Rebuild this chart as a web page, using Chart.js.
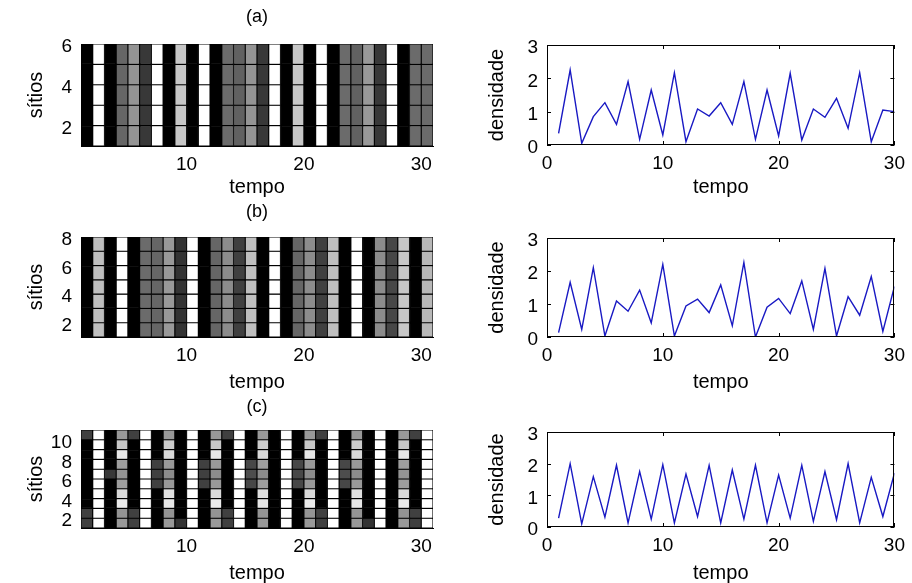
<!DOCTYPE html>
<html>
<head>
<meta charset="utf-8">
<script src="https://cdn.jsdelivr.net/npm/chart.js@4.4.1/dist/chart.umd.min.js"></script>
<style>
  html, body { margin: 0; padding: 0; background: #fff; }
  #fig { position: relative; width: 912px; height: 583px; overflow: hidden; background: #fff; }
  #fig canvas { position: absolute; }
</style>
</head>
<body>
<div id="fig">
  <canvas id="mapaA"></canvas>
  <canvas id="mapaB"></canvas>
  <canvas id="mapaC"></canvas>
  <canvas id="densA"></canvas>
  <canvas id="densB"></canvas>
  <canvas id="densC"></canvas>
</div>
<script>
const tempo = [1, 2, 3, 4, 5, 6, 7, 8, 9, 10, 11, 12, 13, 14, 15, 16, 17, 18, 19, 20, 21, 22, 23, 24, 25, 26, 27, 28, 29, 30];

// tick labels
const ticksTempoMapa = [10, 20, 30];
const ticksTempoDens = [0, 10, 20, 30];
const ticksDens = [0, 1, 2, 3];
const ticksSitiosA = [2, 4, 6];
const ticksSitiosB = [2, 4, 6, 8];
const ticksSitiosC = [2, 4, 6, 8, 10];

// gray level of each time step (0 = black, 1 = white); every site has the same state
const cinzaA = [0, 1, 0, 0.4, 0.58, 0.22, 1, 0, 0.78, 0, 1, 0, 0.42, 0.38, 0.58, 0.22, 1, 0, 0.78, 0, 1, 0, 0.42, 0.38, 0.6, 0.22, 1, 0, 0.42, 0.42];
const cinzaB = [0, 0.75, 0, 1, 0, 0.42, 0.4, 0.6, 0.2, 1, 0, 0.4, 0.55, 0.25, 0.75, 0, 1, 0, 0.4, 0.55, 0.25, 0.75, 0, 1, 0, 0.55, 0.28, 0.78, 0, 0.72];

// case (c): sites x time, first row is the top site (10), last row the bottom site (1)
const cinzaC = [
  [0.25, 1, 0, 0.6, 0.25, 1, 0, 0.6, 0, 1, 0, 0.6, 0.25, 1, 0, 0.6, 0, 1, 0, 0.6, 0.25, 1, 0, 0.6, 0, 1, 0, 0.6, 0.25, 1],
  [0, 1, 0, 0.78, 0, 1, 0, 0.8, 0, 1, 0, 0.78, 0, 1, 0, 0.8, 0, 1, 0, 0.78, 0, 1, 0, 0.8, 0, 1, 0, 0.78, 0, 1],
  [0, 1, 0, 0.9, 0, 1, 0, 0.85, 0, 1, 0, 0.9, 0, 1, 0, 0.85, 0, 1, 0, 0.9, 0, 1, 0, 0.85, 0, 1, 0, 0.9, 0, 1],
  [0, 1, 0, 0.62, 0, 1, 0.25, 0.6, 0, 1, 0.25, 0.6, 0, 1, 0.28, 0.62, 0, 1, 0.28, 0.6, 0, 1, 0.28, 0.6, 0, 1, 0, 0.62, 0, 1],
  [0, 1, 0.22, 0.58, 0, 1, 0.25, 0.55, 0, 1, 0.25, 0.55, 0, 1, 0.3, 0.55, 0, 1, 0.28, 0.55, 0, 1, 0.3, 0.55, 0, 1, 0, 0.58, 0, 1],
  [0, 1, 0, 0.62, 0, 1, 0.25, 0.6, 0, 1, 0.25, 0.6, 0, 1, 0.28, 0.62, 0, 1, 0.28, 0.6, 0, 1, 0.28, 0.6, 0, 1, 0, 0.62, 0, 1],
  [0, 1, 0, 0.85, 0, 1, 0, 0.88, 0, 1, 0, 0.85, 0, 1, 0, 0.88, 0, 1, 0, 0.85, 0, 1, 0, 0.88, 0, 1, 0, 0.85, 0, 1],
  [0, 1, 0, 0.92, 0, 1, 0, 0.9, 0, 1, 0, 0.92, 0, 1, 0, 0.9, 0, 1, 0, 0.92, 0, 1, 0, 0.9, 0, 1, 0, 0.92, 0, 1],
  [0.25, 1, 0, 0.58, 0.25, 1, 0, 0.58, 0, 1, 0, 0.58, 0.25, 1, 0, 0.58, 0, 1, 0, 0.58, 0.25, 1, 0, 0.58, 0, 1, 0, 0.58, 0.25, 1],
  [0.25, 1, 0, 0.6, 0.25, 1, 0, 0.6, 0.2, 1, 0, 0.6, 0.25, 1, 0, 0.6, 0, 1, 0, 0.6, 0.25, 1, 0, 0.6, 0.2, 1, 0, 0.6, 0.25, 1],
];

const densidadeA = [0.35, 2.25, 0.05, 0.85, 1.27, 0.62, 1.9, 0.17, 1.65, 0.3, 2.17, 0.1, 1.08, 0.87, 1.27, 0.62, 1.9, 0.17, 1.65, 0.27, 2.15, 0.15, 1.08, 0.83, 1.4, 0.5, 2.17, 0.1, 1.05, 1.0];
const densidadeB = [0.13, 1.66, 0.23, 2.1, 0.03, 1.09, 0.78, 1.42, 0.43, 2.2, 0.03, 0.94, 1.15, 0.74, 1.58, 0.34, 2.26, 0.0, 0.9, 1.17, 0.71, 1.7, 0.23, 2.08, 0.03, 1.22, 0.66, 1.83, 0.17, 1.53];
const densidadeC = [0.28, 2.0, 0.1, 1.59, 0.31, 1.95, 0.13, 1.75, 0.25, 1.97, 0.13, 1.67, 0.33, 1.95, 0.13, 1.8, 0.25, 1.95, 0.13, 1.64, 0.28, 1.95, 0.18, 1.75, 0.23, 2.0, 0.13, 1.57, 0.33, 1.7];

Chart.defaults.color = '#000';
Chart.defaults.font.family = '"Liberation Sans", Arial, sans-serif';

const FONTE_TICK = { size: 19 };
const FONTE_EIXO = { size: 20, lineHeight: 1.2 };
const FONTE_TITULO = { size: 18, weight: 'normal', lineHeight: 1.2 };
const LARGURA_Y = 64;
const ALTURA_X = 58;

const cinza = (g) => {
  const v = Math.round(g * 255);
  return `rgb(${v},${v},${v})`;
};

const fixarTicks = (valores) => (scale) => {
  scale.ticks = valores.map((value) => ({ value }));
};

// canvas box, plot area and label positions are all in page pixels
const montar = (id, caixa, area, rotulos, config) => {
  const canvas = document.getElementById(id);
  canvas.width = caixa.w;
  canvas.height = caixa.h;
  canvas.style.left = caixa.x + 'px';
  canvas.style.top = caixa.y + 'px';

  const lhEixo = FONTE_EIXO.size * FONTE_EIXO.lineHeight;
  const lhTitulo = FONTE_TITULO.size * FONTE_TITULO.lineHeight;
  const topo = rotulos.titulo ? rotulos.tituloY - caixa.y - lhTitulo / 2 : area.T - caixa.y;

  const opts = config.options;
  opts.responsive = false;
  opts.animation = false;
  opts.layout = {
    autoPadding: false,
    padding: {
      left: area.L - caixa.x - LARGURA_Y,
      right: caixa.x + caixa.w - area.R,
      top: topo,
      bottom: caixa.y + caixa.h - area.B - ALTURA_X,
    },
  };
  opts.plugins = {
    legend: { display: false },
    tooltip: { enabled: false },
    title: rotulos.titulo
      ? {
          display: true,
          text: rotulos.titulo,
          fullSize: false,
          font: FONTE_TITULO,
          padding: { top: 0, bottom: area.T - rotulos.tituloY - lhTitulo / 2 },
        }
      : { display: false },
  };
  const sx = opts.scales.x;
  const sy = opts.scales.y;
  sx.afterFit = (s) => { s.height = ALTURA_X; };
  sy.afterFit = (s) => { s.width = LARGURA_Y; };
  sx.ticks = { font: FONTE_TICK, padding: 7, maxRotation: 0, autoSkip: false };
  sy.ticks = { font: FONTE_TICK, padding: 9, labelOffset: 3, autoSkip: false };
  sx.title = {
    display: true,
    text: 'tempo',
    font: FONTE_EIXO,
    padding: { top: 0, bottom: area.B + ALTURA_X - lhEixo / 2 - rotulos.eixoXY },
  };
  sy.title = {
    display: true,
    text: rotulos.eixoY,
    font: FONTE_EIXO,
    padding: { top: rotulos.eixoYX - (area.L - LARGURA_Y) - lhEixo / 2, bottom: 0 },
  };
  return new Chart(canvas, config);
};

const mapa = (id, caixa, area, rotulos, linhas, ticksSitios) => {
  const nSitios = linhas.length;
  const datasets = linhas.map((linha, r) => {
    const sitio = nSitios - r;
    return {
      data: tempo.map((t) => ({ x: t + 0.5, y: [sitio, sitio + 1] })),
      backgroundColor: linha.map(cinza),
      borderColor: '#000',
      borderWidth: 0.9,
      borderSkipped: false,
      grouped: false,
      barPercentage: 1,
      categoryPercentage: 1,
    };
  });
  return montar(id, caixa, area, rotulos, {
    type: 'bar',
    data: { datasets },
    options: {
      scales: {
        x: {
          type: 'linear',
          min: 1,
          max: tempo.length + 1,
          offset: false,
          afterBuildTicks: fixarTicks(ticksTempoMapa),
          grid: { display: false, drawTicks: false, offset: false },
          border: { display: true, color: '#000', width: 1 },
        },
        y: {
          type: 'linear',
          min: 1,
          max: nSitios + 1,
          afterBuildTicks: fixarTicks(ticksSitios),
          grid: { display: false, drawTicks: false },
          border: { display: true, color: '#000', width: 1 },
        },
      },
    },
  });
};

// axes box with short inward tick marks on all four sides
const moldura = {
  id: 'moldura',
  afterDraw(chart) {
    const { ctx, chartArea: a, scales: { x, y } } = chart;
    const m = 4;
    ctx.save();
    ctx.strokeStyle = '#000';
    ctx.lineWidth = 1;
    ctx.strokeRect(Math.round(a.left) + 0.5, Math.round(a.top) + 0.5, Math.round(a.right - a.left) - 1, Math.round(a.bottom - a.top) - 1);
    ctx.beginPath();
    x.ticks.forEach((t) => {
      const px = Math.round(x.getPixelForValue(t.value)) + 0.5;
      ctx.moveTo(px, a.bottom);
      ctx.lineTo(px, a.bottom - m);
      ctx.moveTo(px, a.top);
      ctx.lineTo(px, a.top + m);
    });
    y.ticks.forEach((t) => {
      const py = Math.round(y.getPixelForValue(t.value)) + 0.5;
      ctx.moveTo(a.left, py);
      ctx.lineTo(a.left + m, py);
      ctx.moveTo(a.right, py);
      ctx.lineTo(a.right - m, py);
    });
    ctx.stroke();
    ctx.restore();
  },
};

const densidade = (id, caixa, area, rotulos, valores) =>
  montar(id, caixa, area, rotulos, {
    type: 'line',
    data: {
      datasets: [{
        data: tempo.map((t, i) => ({ x: t, y: valores[i] })),
        borderColor: 'rgb(25,25,195)',
        borderWidth: 1.4,
        pointRadius: 0,
        tension: 0,
        fill: false,
      }],
    },
    options: {
      scales: {
        x: {
          type: 'linear',
          min: 0,
          max: 30,
          afterBuildTicks: fixarTicks(ticksTempoDens),
          grid: { display: false, drawTicks: false },
          border: { display: false },
        },
        y: {
          type: 'linear',
          min: 0,
          max: 3,
          afterBuildTicks: fixarTicks(ticksDens),
          grid: { display: false, drawTicks: false },
          border: { display: false },
        },
      },
    },
    plugins: [moldura],
  });

const esq = { x: 0, w: 456 };
const dir = { x: 456, w: 456 };

mapa('mapaA', { ...esq, y: 0, h: 208 }, { L: 81, R: 433, T: 44, B: 146 },
  { titulo: '(a)', tituloY: 17, eixoY: 'sítios', eixoYX: 36, eixoXY: 187 },
  [cinzaA, cinzaA, cinzaA, cinzaA, cinzaA], ticksSitiosA);
mapa('mapaB', { ...esq, y: 190, h: 210 }, { L: 81, R: 433, T: 237, B: 337 },
  { titulo: '(b)', tituloY: 212, eixoY: 'sítios', eixoYX: 36, eixoXY: 382 },
  [cinzaB, cinzaB, cinzaB, cinzaB, cinzaB, cinzaB, cinzaB], ticksSitiosB);
mapa('mapaC', { ...esq, y: 385, h: 205 }, { L: 81, R: 433, T: 430, B: 528 },
  { titulo: '(c)', tituloY: 407, eixoY: 'sítios', eixoYX: 36, eixoXY: 573 },
  cinzaC, ticksSitiosC);

densidade('densA', { ...dir, y: 0, h: 208 }, { L: 547, R: 900, T: 45, B: 145 },
  { eixoY: 'densidade', eixoYX: 497, eixoXY: 187 }, densidadeA);
densidade('densB', { ...dir, y: 190, h: 210 }, { L: 547, R: 900, T: 238, B: 337 },
  { eixoY: 'densidade', eixoYX: 497, eixoXY: 382 }, densidadeB);
densidade('densC', { ...dir, y: 385, h: 205 }, { L: 547, R: 900, T: 432, B: 527 },
  { eixoY: 'densidade', eixoYX: 497, eixoXY: 573 }, densidadeC);
</script>
</body>
</html>
